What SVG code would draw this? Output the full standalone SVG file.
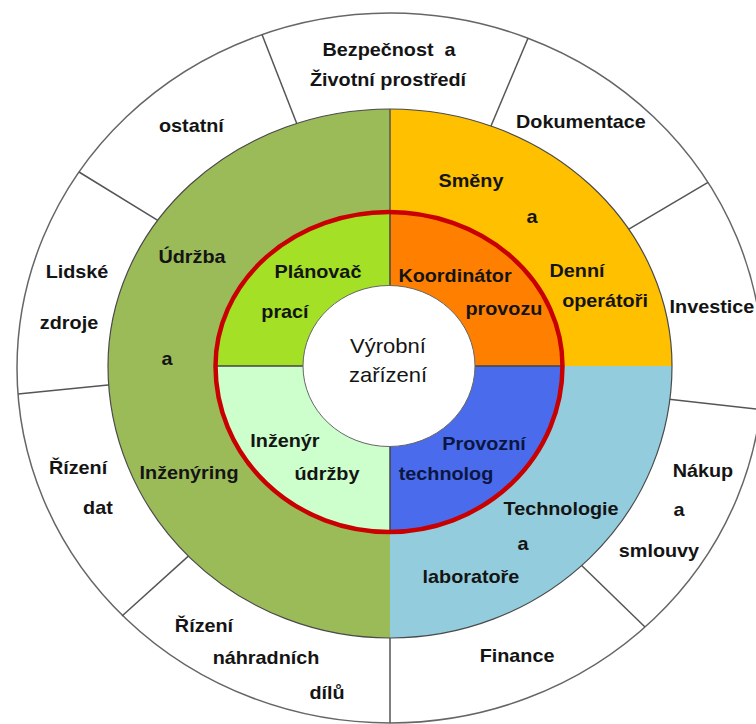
<svg xmlns="http://www.w3.org/2000/svg" width="756" height="724" viewBox="0 0 756 724">
  <style>
    .lbl { font-family: "Liberation Sans", Arial, sans-serif; font-size: 18px; font-weight: bold; fill: #141414; text-anchor: middle; }
    .hub { font-family: "Liberation Sans", Arial, sans-serif; font-size: 20px; font-weight: normal; fill: #141414; text-anchor: middle; }
    .navy { fill: #0b1642; }
    .div { stroke: #555; stroke-width: 1.5; fill: none; }
  </style>
  <defs>
    <!-- middle ring outline (slightly taller below the horizontal axis) -->
    <path id="ringShape" d="M108,366 A282,257 0 0 1 672,366 A282,272 0 0 1 108,366 Z"/>
    <!-- red role circle -->
    <path id="roleShape" d="M215.5,366 A173.5,154 0 0 1 562.5,366 A173.5,166 0 0 1 215.5,366 Z"/>
    <clipPath id="ringClip"><use href="#ringShape"/></clipPath>
    <clipPath id="roleClip"><use href="#roleShape"/></clipPath>
  </defs>

  <rect width="756" height="724" fill="#ffffff"/>

  <!-- outer ring of supporting functions -->
  <g id="outer-ring">
    <ellipse cx="390" cy="368" rx="373" ry="355" fill="#ffffff" stroke="#666" stroke-width="1.5"/>
  </g>

  <!-- segment dividers of the outer ring -->
  <g id="connectors" class="div">
    <line x1="262" y1="34.6" x2="298.6" y2="128.3"/>
    <line x1="79" y1="172" x2="165.5" y2="225.2"/>
    <line x1="18" y1="394" x2="118" y2="384"/>
    <line x1="122" y1="616" x2="192.5" y2="552.4"/>
    <line x1="645" y1="627" x2="576" y2="560"/>
    <line x1="770" y1="410.5" x2="658" y2="398"/>
    <line x1="708" y1="182.4" x2="620.4" y2="234.1"/>
    <line x1="528" y1="38.2" x2="489.2" y2="130.2"/>
    <line x1="390" y1="366" x2="390" y2="723"/>
  </g>

  <!-- middle ring: departments -->
  <g id="departments">
    <g clip-path="url(#ringClip)">
      <rect id="udrzba" x="100" y="100" width="290" height="545" fill="#9bbb59"/>
      <rect id="smeny" x="390" y="100" width="290" height="266" fill="#ffc000"/>
      <rect id="technologie" x="390" y="366" width="290" height="280" fill="#93cddd"/>
    </g>
    <use href="#ringShape" fill="none" stroke="#4a4a4a" stroke-width="1.2"/>
    <line class="div" x1="390" y1="109" x2="390" y2="366"/>
  </g>

  <!-- inner circle: roles -->
  <g id="roles">
    <g clip-path="url(#roleClip)">
      <rect id="planovac" x="210" y="205" width="180" height="161" fill="#a3e026"/>
      <rect id="koordinator" x="390" y="205" width="180" height="161" fill="#ff8000"/>
      <rect id="technolog" x="390" y="366" width="180" height="170" fill="#4a6cec"/>
      <rect id="inzenyr" x="210" y="366" width="180" height="170" fill="#ccffcc"/>
      <line x1="210" y1="366" x2="570" y2="366" stroke="#444" stroke-width="1.5"/>
      <line x1="390" y1="205" x2="390" y2="536" stroke="#444" stroke-width="1.5"/>
    </g>
    <use href="#roleShape" fill="none" stroke="#c80000" stroke-width="4.5"/>
  </g>

  <!-- hub: production equipment -->
  <g id="hub">
    <ellipse cx="389" cy="366" rx="86" ry="80.5" fill="#ffffff" stroke="#666" stroke-width="1"/>
  </g>

  <!-- labels, set slightly wide around the vertical axis -->
  <g id="labels" transform="matrix(1.1 0 0 1 -39 0)">
    <text class="lbl" x="389.1" y="56">Bezpečnost&#160; a</text>
    <text class="lbl" x="388.2" y="86">Životní prostředí</text>
    <text class="lbl" x="563.6" y="128">Dokumentace</text>
    <text class="lbl" x="682.7" y="313">Investice</text>
    <text class="lbl" x="674.5" y="477">Nákup</text>
    <text class="lbl" x="652.7" y="516">a</text>
    <text class="lbl" x="634.5" y="557">smlouvy</text>
    <text class="lbl" x="505.5" y="662">Finance</text>
    <text class="lbl" x="220.9" y="632">Řízení</text>
    <text class="lbl" x="277.3" y="664">náhradních</text>
    <text class="lbl" x="332.7" y="699">dílů</text>
    <text class="lbl" x="106.4" y="474">Řízení</text>
    <text class="lbl" x="124.5" y="514">dat</text>
    <text class="lbl" x="105.5" y="278">Lidské</text>
    <text class="lbl" x="98.2" y="329">zdroje</text>
    <text class="lbl" x="209.5" y="132">ostatní</text>

    <text class="lbl" x="210" y="263">Údržba</text>
    <text class="lbl" x="187.3" y="365">a</text>
    <text class="lbl" x="207.3" y="479">Inženýring</text>
    <text class="lbl" x="463.6" y="187">Směny</text>
    <text class="lbl" x="519.1" y="223">a</text>
    <text class="lbl" x="560" y="277">Denní</text>
    <text class="lbl" x="585.5" y="307">operátoři</text>
    <text class="lbl" x="545.5" y="515">Technologie</text>
    <text class="lbl" x="510.9" y="550">a</text>
    <text class="lbl" x="463.6" y="583">laboratoře</text>

    <text class="lbl" x="324.5" y="278">Plánovač</text>
    <text class="lbl" x="294.5" y="318">prací</text>
    <text class="lbl" x="449.1" y="282">Koordinátor</text>
    <text class="lbl" x="493.6" y="315">provozu</text>
    <text class="lbl" x="294.5" y="447">Inženýr</text>
    <text class="lbl" x="332.7" y="480">údržby</text>
    <text class="lbl navy" x="475.5" y="450">Provozní</text>
    <text class="lbl navy" x="440.9" y="480">technolog</text>

    <text class="hub" x="388.2" y="353">Výrobní</text>
    <text class="hub" x="388.2" y="382">zařízení</text>
  </g>
</svg>
